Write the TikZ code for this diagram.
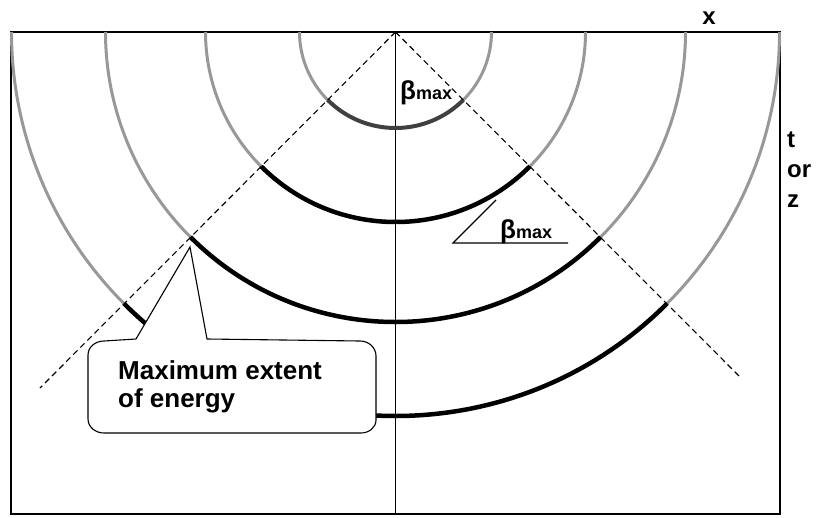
\documentclass[tikz,border=0pt]{standalone}
\usepackage{fontspec}
\setmainfont{Liberation Sans}
\definecolor{arcgray}{RGB}{152,152,152}
\definecolor{innerdark}{RGB}{64,64,64}
\begin{document}
\begin{tikzpicture}[x=1pt,y=-1pt,
  frame/.style={draw=black,line width=1.8pt},
  axisline/.style={draw=black,line width=1.3pt},
  grayarc/.style={draw=arcgray,line width=3pt},
  blackarc/.style={draw=black,line width=4.5pt},
  innerarc/.style={draw=innerdark,line width=4pt},
  conedash/.style={draw=black,line width=1.1pt,dash pattern=on 6pt off 4pt},
  thinline/.style={draw=black,line width=1.1pt},
  callout/.style={draw=black,fill=white,line width=1.1pt},
  lab/.style={font=\bfseries\fontsize{24}{30}\selectfont,inner sep=0pt}]
\useasboundingbox (0,0) rectangle (822,517);
\coordinate (O) at (395.5,32);
\coordinate (VB) at (395.5,514);
% frame and axis
\draw[frame] (11,32) rectangle (780,514);
\draw[axisline] (O) -- (VB);
% wavefront arcs
\foreach \r in {96,190,290,384}{
  \draw[grayarc] (O) ++(180:\r) arc[start angle=180,end angle=135,radius=\r];
  \draw[grayarc] (O) ++(45:\r) arc[start angle=45,end angle=0,radius=\r];
}
\draw[innerarc] (O) ++(135:96) arc[start angle=135,end angle=45,radius=96];
\foreach \r in {190,290,384}{
  \draw[blackarc] (O) ++(135:\r) arc[start angle=135,end angle=45,radius=\r];
}
% cone lines
\coordinate (DL) at (40,388);
\coordinate (DR) at (741,378);
\draw[conedash] (O) -- (DL);
\draw[conedash] (O) -- (DR);
% angle triangle
\coordinate (T1) at (496,200);
\coordinate (T2) at (453,243);
\coordinate (T3) at (568,243);
\draw[thinline] (T1) -- (T2) -- (T3);
% beta labels
\node[lab,anchor=base west] (b1) at (400,99) {{\fontsize{26}{26}\selectfont β}{\fontsize{18}{18}\selectfont max}};
\node[lab,anchor=base west] (b2) at (500,238) {{\fontsize{26}{26}\selectfont β}{\fontsize{18}{18}\selectfont max}};
% axis labels
\node[lab,anchor=base] (xl) at (709,24) {x};
\node[lab,anchor=base west,align=left] (tz) at (787,207) {t\\or\\z};
% callout
\coordinate (tip) at (190,247);
\draw[callout] (136,339) -- (tip) -- (207,339) -- (360,341) to[out=0,in=90] (376,356)
  -- (376,420) to[out=-90,in=0] (361,433) -- (104,433) to[out=180,in=-90] (88,419)
  -- (88,355) to[out=90,in=180] (104,341) -- cycle;
\node[lab,anchor=base west,align=left,font=\bfseries\fontsize{26}{28}\selectfont] (ce) at (118,407) {Maximum extent\\of energy};
\end{tikzpicture}
\end{document}
